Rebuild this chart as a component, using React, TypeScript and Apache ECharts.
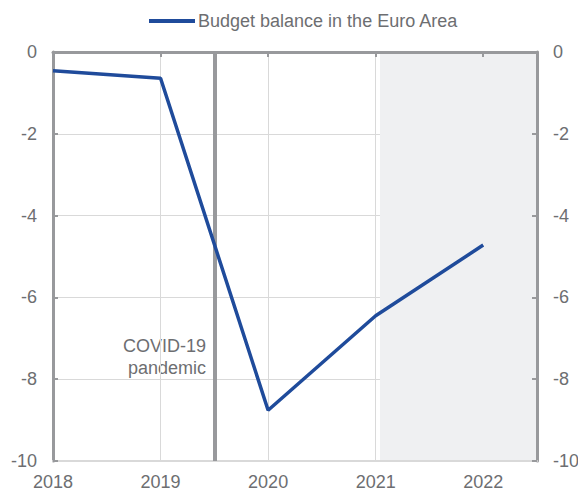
import React, { useEffect, useRef } from "react";
import * as echarts from "echarts";

const years = [2018, 2019, 2020, 2021, 2022];
const budgetBalance = [-0.46, -0.64, -8.76, -6.45, -4.72];
const pandemicX = 2019.5;
const forecastStart = 2021.04;
const xMax = 2022.5;
const seriesName = "Budget balance in the Euro Area";

const FONT = "'Liberation Sans', Arial, sans-serif";
const TXT = "#6d6e71";
const AXIS = "#98999c";
const GRIDC = "#d9d9d9";
const FS = 18;

export default function App() {
  const ref = useRef<HTMLDivElement>(null);
  useEffect(() => {
    const chart = echarts.init(ref.current!, null, { renderer: "svg" });
    const yAxisCommon = {
      type: "value" as const,
      min: -10,
      max: 0,
      interval: 2,
      axisLine: { show: true, lineStyle: { color: AXIS, width: 3 } },
      axisTick: { show: true, inside: true, length: 5, lineStyle: { color: AXIS, width: 2 } },
      axisLabel: { color: TXT, fontSize: FS, fontFamily: FONT, margin: 16 },
      splitLine: { show: true, lineStyle: { color: GRIDC, width: 1 } },
    };
    chart.setOption({
      animation: false,
      textStyle: { fontFamily: FONT },
      legend: {
        top: 7,
        left: 144,
        icon: "rect",
        itemWidth: 46,
        itemHeight: 4,
        itemGap: 4,
        textStyle: { color: TXT, fontSize: FS, fontFamily: FONT, padding: [0, 0, 0, -2] },
        data: [seriesName],
      },
      grid: {
        left: 53,
        right: 41,
        top: 52,
        bottom: 32,
        containLabel: false,
        outerBoundsMode: "none",
      },
      xAxis: [
        {
          type: "value",
          position: "bottom",
          min: 2018,
          max: xMax,
          interval: 1,
          axisLine: { show: true, onZero: false, lineStyle: { color: GRIDC, width: 2 } },
          axisTick: { show: false },
          axisLabel: {
            color: TXT,
            fontSize: FS,
            fontFamily: FONT,
            margin: 12,
            formatter: (v: number) => (Number.isInteger(v) ? String(v) : ""),
            showMaxLabel: false,
          },
          splitLine: { show: true, lineStyle: { color: GRIDC, width: 1 } },
        },
        {
          type: "value",
          position: "top",
          min: 2018,
          max: xMax,
          interval: 1,
          axisLine: { show: true, onZero: false, lineStyle: { color: AXIS, width: 3 } },
          axisTick: { show: true, inside: true, length: 5, lineStyle: { color: AXIS, width: 2 } },
          axisLabel: { show: false },
          splitLine: { show: false },
        },
      ],
      yAxis: [
        { ...yAxisCommon, position: "left" },
        { ...yAxisCommon, position: "right", splitLine: { show: false } },
      ],
      series: [
        {
          name: seriesName,
          type: "line",
          xAxisIndex: 0,
          yAxisIndex: 0,
          data: years.map((y, i) => [y, budgetBalance[i]]),
          symbol: "none",
          lineStyle: { color: "#1f4b9b", width: 3.5 },
          itemStyle: { color: "#1f4b9b" },
          z: 5,
          markArea: {
            silent: true,
            itemStyle: { color: "#eff0f2" },
            data: [[{ xAxis: forecastStart }, { xAxis: xMax }]],
            z: 0,
          },
          markLine: {
            silent: true,
            symbol: ["none", "none"],
            label: { show: false },
            lineStyle: { color: AXIS, width: 4, type: "solid" },
            data: [{ xAxis: pandemicX }],
          },
        },
      ],
      graphic: [
        {
          type: "text",
          x: 206,
          y: 335,
          style: {
            text: "COVID-19\npandemic",
            fill: TXT,
            fontSize: FS,
            fontFamily: FONT,
            align: "right",
            verticalAlign: "top",
            lineHeight: 22,
          },
        },
      ],
    });
    return () => chart.dispose();
  }, []);
  return (
    <div
      ref={ref}
      style={{ position: "absolute", left: 0, top: 0, width: 578, height: 493 }}
    />
  );
}
